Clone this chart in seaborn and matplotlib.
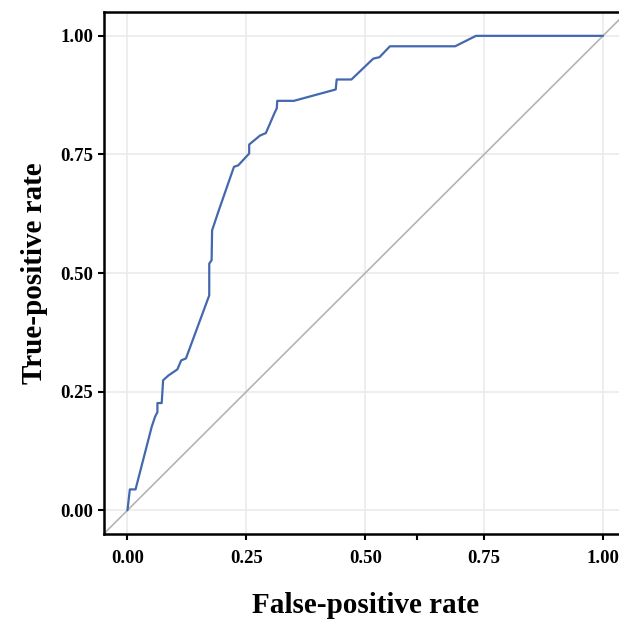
import matplotlib
matplotlib.use("Agg")
import matplotlib.pyplot as plt
import seaborn as sns
import pandas as pd

# ROC curve points
fpr = [0.000, 0.005, 0.017, 0.051, 0.058, 0.063, 0.063, 0.072, 0.075, 0.086,
       0.105, 0.113, 0.123, 0.172, 0.172, 0.177, 0.178, 0.191, 0.224, 0.233,
       0.256, 0.256, 0.279, 0.291, 0.310, 0.314, 0.315, 0.350, 0.438, 0.440,
       0.471, 0.517, 0.530, 0.552, 0.689, 0.733, 1.000]
tpr = [0.000, 0.044, 0.044, 0.176, 0.197, 0.207, 0.226, 0.226, 0.274, 0.284,
       0.297, 0.316, 0.320, 0.453, 0.520, 0.527, 0.590, 0.629, 0.724, 0.727,
       0.752, 0.771, 0.790, 0.795, 0.839, 0.847, 0.863, 0.863, 0.887, 0.908,
       0.908, 0.952, 0.955, 0.978, 0.978, 1.000, 1.000]
ticks = [0.0, 0.25, 0.5, 0.75, 1.0]
tick_labels = ["0.00", "0.25", "0.50", "0.75", "1.00"]


def main():
    df = pd.DataFrame({"fpr": fpr, "tpr": tpr})

    sns.set_theme(style="whitegrid")
    plt.rcParams["font.family"] = ["Liberation Serif", "DejaVu Serif"]
    plt.rcParams["font.weight"] = "bold"
    plt.rcParams["text.color"] = "black"
    plt.rcParams["axes.labelcolor"] = "black"
    plt.rcParams["xtick.color"] = "black"
    plt.rcParams["ytick.color"] = "black"

    fig = plt.figure(figsize=(6.19, 6.25), dpi=100)
    ax = fig.add_axes([0.1675, 0.1456, 0.845, 0.835])

    ax.axline((0, 0), slope=1, color="#b4b4b4", linewidth=1.2, zorder=2)
    sns.lineplot(data=df, x="fpr", y="tpr", sort=False, estimator=None,
                 color="#4468ae", linewidth=1.6, ax=ax, zorder=3)

    ax.set_xlim(-0.05, 1.05)
    ax.set_ylim(-0.05, 1.05)
    ax.set_xticks(ticks)
    ax.set_xticklabels(tick_labels)
    ax.set_yticks(ticks)
    ax.set_yticklabels(tick_labels)
    ax.set_xticks([0.608], minor=True)

    ax.grid(True, which="major", color="#ebebeb", linewidth=1.2)
    ax.grid(False, which="minor")
    for side in ["left", "bottom", "top", "right"]:
        ax.spines[side].set_color("black")
        ax.spines[side].set_linewidth(1.8)

    ax.tick_params(axis="both", which="both", direction="out", length=4.5,
                   width=1.5, color="black", labelcolor="black", labelsize=13.5,
                   bottom=True, left=True)
    ax.tick_params(axis="x", which="major", pad=7)
    ax.tick_params(axis="y", which="major", pad=3)

    ax.set_xlabel("False-positive rate", fontsize=21, fontweight="bold", labelpad=18)
    ax.set_ylabel("True-positive rate", fontsize=21, fontweight="bold", labelpad=9)

    fig.savefig("out.png", dpi=100)


if __name__ == "__main__":
    main()
